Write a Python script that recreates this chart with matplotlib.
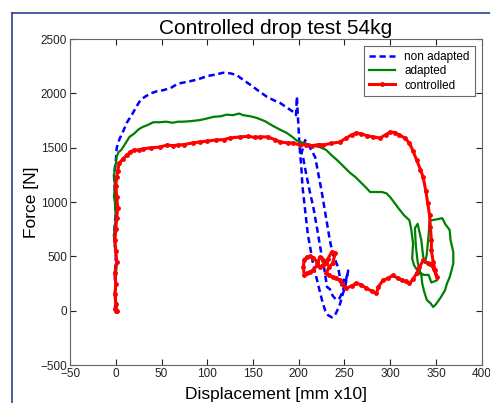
import matplotlib

matplotlib.use("Agg")

import matplotlib.pyplot as plt
from matplotlib.lines import Line2D

# non adapted (blue, dashed)
blue_x = [-1, 0, -1, 0, -2, 0, -1, -2, 0, 1, 4, 8, 12, 18, 22, 27, 32, 38, 45, 52, 60, 68, 80, 90, 100,
          110, 117, 125, 132, 140, 147, 155, 165, 172, 180, 187, 194, 197, 198, 199, 200, 201, 203, 204,
          206, 208, 210, 213, 215, 218, 221, 223, 226, 229, 232, 236, 239, 242, 245, 248, 251, 254, 251,
          248, 245, 241, 237, 234, 231, 228, 224, 220, 216, 212, 208, 205, 203, 207, 212, 218, 225, 230,
          234, 237, 243, 247, 250]
blue_y = [0, 150, 300, 500, 700, 900, 1100, 1250, 1380, 1500, 1580, 1650, 1730, 1810, 1870, 1940, 1970,
          2000, 2020, 2030, 2050, 2090, 2110, 2130, 2160, 2175, 2190, 2185, 2170, 2120, 2080, 2030, 1970,
          1940, 1910, 1870, 1830, 1800, 1970, 1800, 1650, 1500, 1300, 1150, 1000, 850, 700, 560, 460, 350,
          250, 180, 80, 0, -40, -60, -50, 0, 60, 150, 230, 370, 260, 180, 120, 100, 140, 200, 218, 380,
          560, 760, 950, 1100, 1265, 1400, 1450, 1570, 1506, 1413, 1100, 850, 650, 530, 400, 218, 300]

# adapted (green)
green_x = [0, 1, -1, 0, 1, -1, -2, 0, -1, -2, -1, -2, -1, 0, 1, 3, 6, 8, 12, 15, 20, 25, 29, 35, 41, 48,
           55, 62, 68, 74, 82, 92, 100, 107, 115, 121, 128, 135, 139, 147, 154, 163, 172, 180, 187, 193,
           198, 205, 213, 223, 230, 236, 242, 250, 256, 262, 268, 274, 278, 285, 291, 296, 300, 305, 309,
           315, 321, 323, 325, 324, 326, 329, 333, 330, 328, 327, 330, 334, 336, 338, 340, 342, 343, 350,
           357, 360, 365, 366, 369, 369, 367, 365, 362, 360, 355, 350, 347, 344, 340, 337, 335, 334, 333,
           337, 342, 345, 351]
green_y = [0, 50, 150, 300, 450, 600, 700, 850, 1000, 1050, 1150, 1250, 1300, 1350, 1420, 1460, 1480,
           1506, 1560, 1600, 1630, 1670, 1690, 1710, 1735, 1735, 1740, 1730, 1740, 1740, 1745, 1755, 1770,
           1785, 1790, 1805, 1800, 1815, 1800, 1790, 1775, 1745, 1700, 1665, 1636, 1600, 1565, 1545, 1525,
           1506, 1480, 1430, 1386, 1320, 1270, 1230, 1180, 1130, 1093, 1093, 1093, 1080, 1045, 990, 944,
           880, 833, 750, 620, 480, 420, 380, 350, 450, 600, 760, 800, 650, 500, 440, 520, 700, 830, 840,
           852, 800, 743, 650, 540, 437, 370, 309, 250, 190, 120, 60, 35, 70, 100, 180, 252, 330, 346,
           330, 330, 260, 280]

# controlled (red, dots)
red_x = [0, -1, 1, 0, -1, 0, -1, 1, 0, -1, 0, 1, 2, 1, 0, 1, 2, 4, 8, 12, 16, 20, 25, 30, 38, 48, 56,
         62, 68, 75, 84, 92, 100, 110, 118, 125, 136, 145, 152, 158, 166, 174, 180, 188, 194, 201, 208,
         215, 222, 227, 235, 245, 252, 258, 263, 268, 275, 281, 289, 295, 300, 305, 310, 316, 321, 325,
         329, 333, 336, 339, 341, 343, 344, 345, 345, 347, 349, 351, 348, 344, 341, 336, 332, 329, 325,
         321, 317, 313, 308, 303, 298, 292, 287, 285, 280, 274, 268, 263, 258, 252, 247, 245, 241, 237,
         233, 230, 233, 237, 240, 236, 232, 230, 226, 223, 220, 216, 212, 209, 206, 205, 206, 209, 212,
         216, 220, 223, 227, 230]
red_y = [0, 20, 0, 60, 150, 250, 350, 450, 550, 650, 750, 850, 950, 1050, 1150, 1230, 1290, 1360, 1400,
         1433, 1460, 1480, 1480, 1490, 1500, 1506, 1525, 1520, 1525, 1530, 1545, 1553, 1560, 1572, 1575,
         1590, 1600, 1605, 1595, 1600, 1600, 1575, 1553, 1545, 1545, 1525, 1530, 1520, 1530, 1525, 1540,
         1553, 1590, 1620, 1636, 1630, 1610, 1600, 1590, 1620, 1645, 1640, 1617, 1590, 1543, 1470, 1386,
         1300, 1230, 1100, 990, 880, 770, 650, 555, 450, 372, 310, 380, 430, 437, 465, 400, 346, 290, 252,
         270, 280, 300, 327, 300, 280, 220, 160, 180, 207, 240, 252, 230, 207, 250, 280, 300, 310, 330,
         346, 400, 437, 530, 540, 480, 437, 420, 400, 450, 490, 500, 493, 470, 400, 330, 346, 357, 375,
         420, 493, 470, 437]

x_ticks = [-50, 0, 50, 100, 150, 200, 250, 300, 350, 400]
y_ticks = [-500, 0, 500, 1000, 1500, 2000, 2500]

plt.rcParams["font.family"] = ["Liberation Sans", "DejaVu Sans"]

fig = plt.figure(figsize=(4.9, 4.03), dpi=100)
ax = fig.add_axes([0.143, 0.094, 0.840, 0.809])

ax.plot(blue_x, blue_y, color="#0000ff", linestyle="--", linewidth=1.8, dashes=(2.5, 1.5), label="non adapted")
ax.plot(green_x, green_y, color="#008000", linewidth=1.6, label="adapted")
ax.plot(red_x, red_y, color="#ff0000", linewidth=2.2, marker=".", markersize=5, label="controlled")

ax.set_xlim(-50, 400)
ax.set_ylim(-500, 2500)
ax.set_xticks(x_ticks)
ax.set_yticks(y_ticks)
ax.tick_params(direction="in", length=4, top=True, right=True, labelsize=8.5, colors="#222222", pad=2)
for s in ax.spines.values():
    s.set_color("#666666")
    s.set_linewidth(0.8)

ax.set_title("Controlled drop test 54kg", fontsize=15, pad=4)
ax.set_xlabel("Displacement [mm x10]", fontsize=12.5, labelpad=5)
ax.set_ylabel("Force [N]", fontsize=12.5, labelpad=1)

leg = ax.legend(loc="upper right", fontsize=8.5, frameon=True, fancybox=False, handlelength=2.2,
                borderpad=0.4, labelspacing=0.2, borderaxespad=0.6)
leg.get_frame().set_edgecolor("#444444")
leg.get_frame().set_linewidth(0.8)

# window border of the original screenshot
fig.add_artist(Line2D([12 / 490, 12 / 490], [0, 1 - 13 / 403], transform=fig.transFigure,
                      color="#2b3f8c", linewidth=1.2))
fig.add_artist(Line2D([12 / 490, 1], [1 - 13 / 403, 1 - 13 / 403], transform=fig.transFigure,
                      color="#2b3f8c", linewidth=1.2))

fig.savefig("out.png", dpi=100)
